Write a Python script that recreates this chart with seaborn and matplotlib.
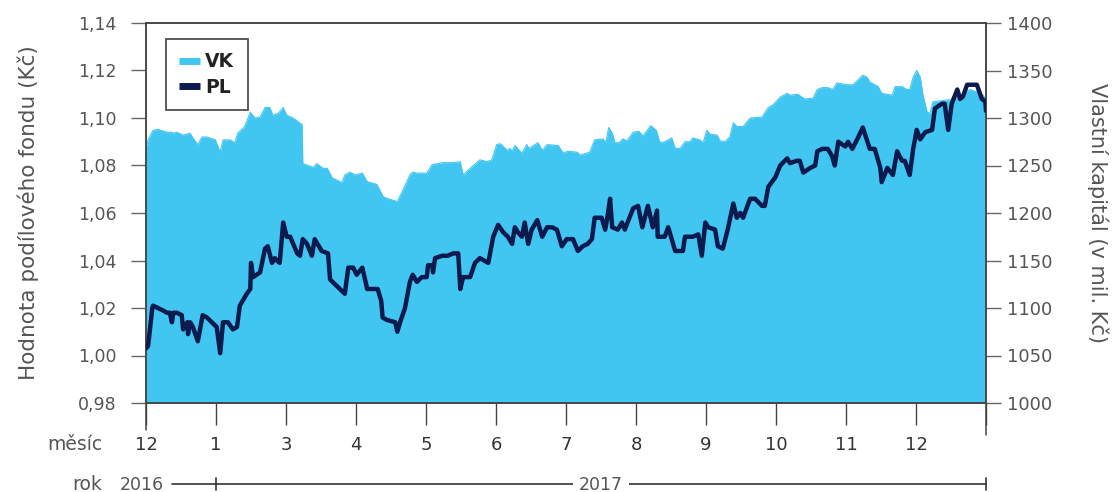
import matplotlib
matplotlib.use("Agg")
import matplotlib.pyplot as plt
from matplotlib.lines import Line2D
import seaborn as sns
import pandas as pd

# ---------------- data ----------------
pl_x = [0.00,0.03,0.09,0.10,0.17,0.24,0.30,0.34,0.37,0.39,
        0.44,0.51,0.53,0.59,0.60,0.63,0.67,0.74,0.81,0.87,
        0.94,1.01,1.06,1.10,1.17,1.24,1.30,1.34,1.44,1.49,
        1.50,1.53,1.63,1.70,1.74,1.80,1.84,1.87,1.91,1.96,
        2.01,2.06,2.16,2.20,2.24,2.30,2.37,2.41,2.51,2.60,
        2.63,2.77,2.84,2.89,2.96,3.01,3.09,3.16,3.24,3.31,
        3.36,3.38,3.44,3.56,3.59,3.63,3.70,3.77,3.81,3.87,
        3.94,4.01,4.03,4.09,4.10,4.13,4.23,4.31,4.39,4.46,
        4.49,4.53,4.63,4.70,4.77,4.89,4.96,5.03,5.10,5.17,
        5.23,5.27,5.31,5.37,5.41,5.46,5.51,5.59,5.66,5.73,
        5.80,5.87,5.94,6.01,6.10,6.17,6.24,6.31,6.37,6.41,
        6.51,6.56,6.59,6.63,6.66,6.74,6.80,6.84,6.96,7.03,
        7.09,7.17,7.24,7.30,7.31,7.41,7.46,7.56,7.67,7.70,
        7.77,7.81,7.89,7.94,7.99,8.03,8.13,8.17,8.24,8.31,
        8.39,8.44,8.49,8.53,8.63,8.70,8.80,8.84,8.89,8.94,
        8.99,9.06,9.16,9.20,9.30,9.34,9.39,9.49,9.56,9.59,
        9.66,9.74,9.80,9.84,9.89,9.99,10.03,10.09,10.16,10.24,
        10.34,10.41,10.49,10.51,10.59,10.67,10.73,10.80,10.84,10.91,
        10.96,11.01,11.06,11.13,11.23,11.27,11.37,11.41,11.46,11.51,
        11.59,11.63,11.67,11.73,11.87,11.94,11.99,12.00]
pl_v = [1.003,1.004,1.020,1.021,1.020,1.019,1.018,1.018,1.014,1.018,
        1.018,1.017,1.011,1.014,1.009,1.014,1.012,1.006,1.017,1.016,
        1.014,1.012,1.001,1.014,1.014,1.011,1.012,1.021,1.026,1.028,
        1.039,1.033,1.035,1.045,1.046,1.039,1.041,1.040,1.039,1.056,
        1.050,1.050,1.043,1.042,1.049,1.047,1.042,1.049,1.044,1.043,
        1.032,1.028,1.026,1.037,1.037,1.034,1.037,1.028,1.028,1.028,
        1.023,1.016,1.015,1.014,1.010,1.014,1.020,1.031,1.034,1.031,
        1.033,1.033,1.038,1.038,1.035,1.041,1.042,1.042,1.043,1.043,
        1.028,1.033,1.033,1.039,1.041,1.039,1.050,1.055,1.052,1.050,
        1.047,1.054,1.052,1.050,1.056,1.047,1.053,1.057,1.050,1.054,
        1.054,1.053,1.046,1.049,1.049,1.044,1.046,1.047,1.049,1.058,
        1.058,1.053,1.058,1.066,1.054,1.053,1.056,1.053,1.062,1.063,
        1.054,1.063,1.054,1.061,1.050,1.050,1.054,1.044,1.044,1.050,
        1.050,1.050,1.051,1.042,1.056,1.054,1.053,1.046,1.045,1.053,
        1.064,1.058,1.060,1.058,1.066,1.066,1.063,1.063,1.071,1.073,
        1.075,1.080,1.083,1.081,1.082,1.082,1.077,1.079,1.080,1.086,
        1.087,1.087,1.084,1.080,1.090,1.088,1.090,1.087,1.091,1.096,
        1.087,1.087,1.079,1.073,1.079,1.076,1.086,1.082,1.082,1.076,
        1.087,1.095,1.091,1.094,1.095,1.104,1.106,1.106,1.095,1.106,
        1.112,1.108,1.109,1.114,1.114,1.108,1.107,1.103]

vk_x = [0.00,0.03,0.10,0.17,0.30,0.37,0.39,0.44,0.53,0.63,
        0.67,0.74,0.80,0.87,0.99,1.06,1.10,1.20,1.27,1.31,
        1.41,1.49,1.56,1.63,1.70,1.77,1.81,1.89,1.96,2.01,
        2.10,2.23,2.24,2.39,2.44,2.53,2.59,2.66,2.80,2.84,
        2.91,2.99,3.09,3.16,3.30,3.39,3.46,3.59,3.67,3.77,
        3.81,3.87,4.01,4.09,4.17,4.24,4.39,4.49,4.53,4.60,
        4.77,4.87,4.94,5.01,5.06,5.16,5.20,5.23,5.27,5.37,
        5.44,5.47,5.60,5.66,5.73,5.89,5.96,6.03,6.16,6.20,
        6.34,6.41,6.53,6.57,6.61,6.66,6.70,6.76,6.81,6.87,
        6.96,7.04,7.10,7.21,7.29,7.34,7.41,7.51,7.56,7.63,
        7.70,7.77,7.81,7.91,7.96,8.01,8.06,8.16,8.20,8.27,
        8.34,8.39,8.44,8.53,8.63,8.80,8.89,8.96,9.06,9.16,
        9.20,9.31,9.41,9.53,9.59,9.66,9.74,9.81,9.87,10.01,
        10.10,10.24,10.30,10.34,10.46,10.51,10.66,10.70,10.80,10.87,
        10.91,10.96,11.01,11.06,11.10,11.16,11.20,11.24,11.44,11.51,
        11.63,11.77,11.91,11.96,12.00]
vk_v = [1268,1277,1287,1288,1285,1285,1284,1285,1282,1284,
        1279,1272,1280,1280,1277,1264,1277,1277,1274,1284,
        1291,1306,1300,1301,1311,1311,1303,1305,1311,1303,
        1300,1293,1252,1248,1252,1247,1247,1237,1232,1240,
        1243,1240,1242,1233,1230,1217,1215,1212,1224,1240,
        1243,1242,1242,1251,1252,1253,1253,1254,1240,1245,
        1256,1254,1256,1272,1273,1266,1268,1265,1271,1263,
        1272,1268,1274,1266,1272,1271,1263,1265,1264,1261,
        1264,1277,1278,1274,1290,1284,1274,1274,1278,1276,
        1285,1286,1281,1292,1287,1274,1275,1279,1268,1268,
        1275,1275,1279,1277,1274,1287,1283,1282,1276,1275,
        1280,1295,1291,1291,1300,1301,1311,1314,1322,1326,
        1324,1325,1320,1321,1330,1332,1332,1330,1337,1335,
        1335,1345,1343,1338,1333,1326,1324,1333,1333,1330,
        1330,1343,1350,1343,1324,1306,1305,1317,1319,1319,
        1323,1330,1326,1324,1319]

month_ticks = list(range(13))
month_labels = ["12", "1", "3", "4", "5", "6", "7", "8", "9", "10", "11", "12", ""]
left_ticks = [0.98, 1.00, 1.02, 1.04, 1.06, 1.08, 1.10, 1.12, 1.14]
left_labels = ["0,98", "1,00", "1,02", "1,04", "1,06", "1,08", "1,10", "1,12", "1,14"]
right_ticks = [1000, 1050, 1100, 1150, 1200, 1250, 1300, 1350, 1400]
year_labels = ["2016", "2017"]

# ---------------- style ----------------
sns.set_theme(style="white")
plt.rcParams["font.family"] = ["DejaVu Sans"]

AREA = "#41C6F2"
LINE = "#0C1A4E"
SPINE = "#444444"
TXT = "#555555"
DARK = "#333333"

fig = plt.figure(figsize=(11.16, 4.92), dpi=100)
ax = fig.add_axes([146/1116, 1-403/492, 840/1116, 380/492])
ax2 = ax.twinx()

df_vk = pd.DataFrame({"x": vk_x, "v": vk_v})
df_pl = pd.DataFrame({"x": pl_x, "v": pl_v})

# area (right axis)
ax2.fill_between(df_vk["x"], 990, df_vk["v"], color=AREA, lw=0, zorder=1)
sns.lineplot(data=df_vk, x="x", y="v", ax=ax2, color=AREA, lw=0.8,
             estimator=None, sort=False, zorder=2)
ax2.set_ylim(1000, 1400)

# line (left axis) on top
ax.set_zorder(ax2.get_zorder() + 1)
ax.patch.set_visible(False)
sns.lineplot(data=df_pl, x="x", y="v", ax=ax, color=LINE, lw=3.2,
             estimator=None, sort=False, zorder=5)
ax.set_ylim(0.98, 1.14)
ax.set_xlim(0, 12)

for a in (ax, ax2):
    for s in a.spines.values():
        s.set_visible(True)
        s.set_color(SPINE)
        s.set_linewidth(1.1)

ax.set_yticks(left_ticks)
ax.set_yticklabels(left_labels)
ax.tick_params(axis="y", direction="out", length=11, width=1, color="#666666",
               pad=10, labelsize=12.5, labelcolor=TXT, left=True)
ax2.set_yticks(right_ticks)
ax2.set_yticklabels([str(t) for t in right_ticks])
ax2.tick_params(axis="y", direction="out", length=11, width=1, color="#666666",
                pad=4, labelsize=13, labelcolor=TXT, right=True)

ax.set_xticks(month_ticks)
ax.set_xticklabels(month_labels)
ax.tick_params(axis="x", direction="out", length=16, width=1, color=SPINE,
               pad=8, labelsize=13, labelcolor=DARK, bottom=True)

ax.set_xlabel("")
ax.set_ylabel("Hodnota podílového fondu (Kč)", fontsize=15.5, color=TXT, labelpad=28)
ax2.set_ylabel("Vlastní kapitál (v mil. Kč)", fontsize=15, color=TXT,
               rotation=-90, labelpad=40)
ax2.set_xlabel("")

# longer end ticks
xt = ax.get_xaxis_transform()
ax.add_line(Line2D([0, 0], [0, -27/380], transform=xt, color=SPINE, lw=1.1, clip_on=False))
ax.add_line(Line2D([12, 12], [0, -32/380], transform=xt, color=SPINE, lw=1.1, clip_on=False))

# row labels
ax.text(-0.62, -0.11, "měsíc", transform=xt, ha="right", va="center",
        fontsize=13.5, color=TXT)
ax.text(-0.62, -0.215, "rok", transform=xt, ha="right", va="center",
        fontsize=13.5, color=TXT)
ax.text(-0.06, -0.215, year_labels[0], transform=xt, ha="center", va="center",
        fontsize=12.5, color=TXT)

# year bracket line
ax.add_line(Line2D([0.37, 12], [-0.213, -0.213], transform=xt, color=DARK, lw=1.2, clip_on=False))
ax.add_line(Line2D([1, 1], [-0.198, -0.228], transform=xt, color=DARK, lw=1.2, clip_on=False))
ax.add_line(Line2D([12, 12], [-0.198, -0.228], transform=xt, color=DARK, lw=1.2, clip_on=False))
ax.text(6.5, -0.215, year_labels[1], transform=xt, ha="center", va="center",
        fontsize=12.5, color=TXT,
        bbox=dict(facecolor="white", edgecolor="none", pad=4))

# legend
handles = [Line2D([], [], color=AREA, lw=5, solid_capstyle="butt"),
           Line2D([], [], color=LINE, lw=5, solid_capstyle="butt")]
leg = ax.legend(handles, ["VK", "PL"], loc="upper left",
                bbox_to_anchor=(20/840, 1-16/380), borderaxespad=0,
                frameon=True, fancybox=False, handlelength=1.1,
                handletextpad=0.3, labelspacing=0.35, borderpad=0.7,
                prop={"weight": "bold", "size": 13.5})
leg.get_frame().set_edgecolor("#222222")
leg.get_frame().set_linewidth(1.3)
for t in leg.get_texts():
    t.set_color("#222222")

fig.savefig("out.png", dpi=100)
